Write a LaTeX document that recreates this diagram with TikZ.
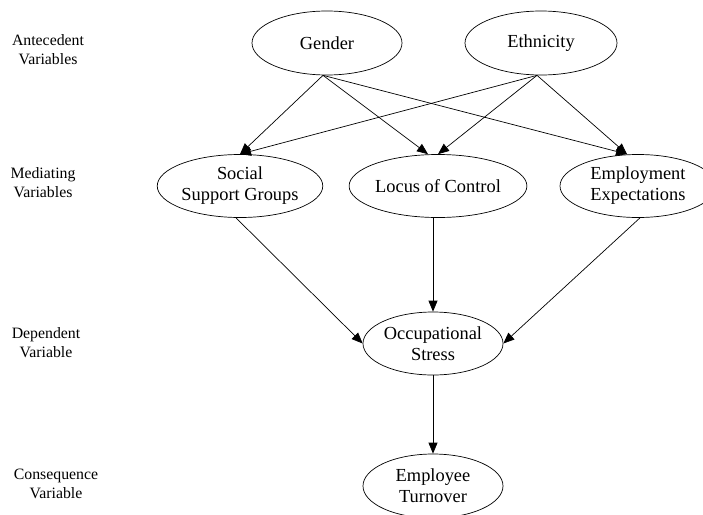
\documentclass[tikz,border=0pt]{standalone}
\usepackage{fontspec}
\setmainfont{Liberation Serif}
\usetikzlibrary{shapes.geometric,arrows.meta}
\begin{document}
\begin{tikzpicture}[x=1pt,y=-1pt,
  var/.style={ellipse, draw, line width=0.7pt, inner sep=0pt, align=center,
    font=\fontsize{18.4}{21}\selectfont},
  lab/.style={align=center, inner sep=0pt, font=\fontsize{15.8}{19}\selectfont},
  arr/.style={line width=0.7pt, -{Triangle[length=11pt,width=9pt]}},
  ln/.style={line width=0.7pt}]
\useasboundingbox (0,0) rectangle (703,514);
% left labels
\node[lab] (l1) at (48,49.5) {Antecedent\\Variables};
\node[lab] (l2) at (43,183) {Mediating\\Variables};
\node[lab] (l3) at (46,342.5) {Dependent\\Variable};
\node[lab] (l4) at (56,484) {Consequence\\Variable};
% nodes
\node[var, minimum width=150, minimum height=64] (gen) at (327,43) {Gender};
\node[var, minimum width=152, minimum height=64] (eth) at (541,43) {Ethnicity};
\node[var, minimum width=154, minimum height=63] (soc) at (240,186) {Social\\Support Groups};
\node[var, minimum width=152, minimum height=63] (loc) at (438,186) {Locus of Control};
\node[var, minimum width=156, minimum height=63] (emp) at (638,186) {Employment\\Expectations};
\node[var, minimum width=140, minimum height=63] (occ) at (433,343.5) {Occupational\\Stress};
\node[var, minimum width=140, minimum height=64] (tur) at (433,486) {Employee\\Turnover};
% connectors
\draw[arr] ([xshift=-4]gen.south) -- (soc.north);
\draw[arr] ([xshift=-4]gen.south) -- ([xshift=-10]loc.north);
\draw[arr] ([xshift=-4]gen.south) -- ([xshift=-11]emp.north);
\draw[arr] ([xshift=-4]eth.south) -- (soc.north);
\draw[arr] ([xshift=-4]eth.south) -- (loc.north);
\draw[arr] ([xshift=-4]eth.south) -- ([xshift=-11]emp.north);
\draw[arr] ([xshift=-4]soc.south) -- (occ.west);
\draw[arr] (loc.south -| occ.north) -- (occ.north);
\draw[arr] ([xshift=2]emp.south) -- (occ.east);
\draw[arr] (occ.south) -- (tur.north);
\end{tikzpicture}
\end{document}
